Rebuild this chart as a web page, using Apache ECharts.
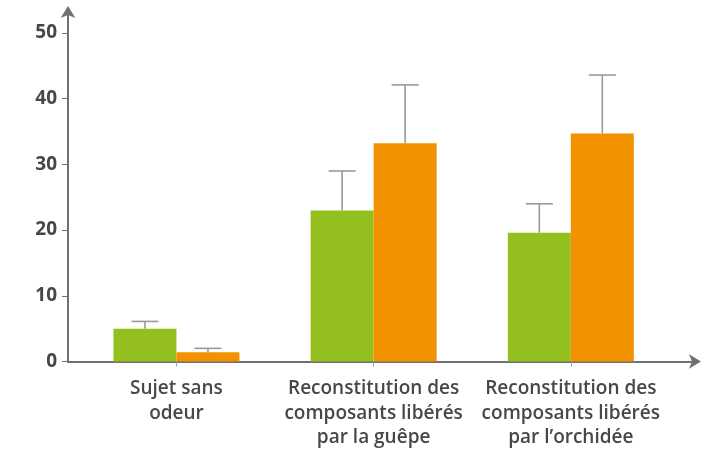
<!DOCTYPE html>
<html>
<head>
<meta charset="utf-8">
<script src="https://cdn.jsdelivr.net/npm/echarts@6/dist/echarts.min.js"></script>
<style>
  html, body { margin: 0; padding: 0; background: #ffffff; }
  #chart { width: 712px; height: 450px; }
</style>
</head>
<body>
<div id="chart"></div>
<script>
// Conditions tested (x axis), one group of two bars each
const categories = [
  'Sujet sans\nodeur',
  'Reconstitution des\ncomposants libérés\npar la guêpe',
  'Reconstitution des\ncomposants libérés\npar l\u2019orchidée'
];
const categoryIndex = [0, 1, 2];

// Green series: mean and upper error
const greenValues = [5, 23, 19.6];
const greenErrors = [1.1, 6, 4.4];

// Orange series: mean and upper error
const orangeValues = [1.4, 33.2, 34.7];
const orangeErrors = [0.6, 8.9, 8.9];

// Y axis tick labels
const yTicks = [0, 10, 20, 30, 40, 50];

const GREEN = '#93c01f';
const ORANGE = '#f39200';
const AXIS = '#707070';
const TEXT = '#474747';
const BAR_W = 63;
const CAP_W = 27;

const chart = echarts.init(document.getElementById('chart'), null, { renderer: 'canvas' });

function errorBarRenderer(side) {
  return function (params, api) {
    const idx = api.value(0);
    const v = api.value(1);
    const e = api.value(2);
    const base = api.coord([idx, v]);
    const top = api.coord([idx, v + e]);
    const x = base[0] + side * BAR_W / 2;
    const style = { stroke: '#9a9a9a', lineWidth: 1.6 };
    return {
      type: 'group',
      children: [
        { type: 'line', shape: { x1: x, y1: base[1], x2: x, y2: top[1] }, style },
        { type: 'line', shape: { x1: x - CAP_W / 2, y1: top[1], x2: x + CAP_W / 2, y2: top[1] }, style }
      ]
    };
  };
}

const zip = (vals, errs) => categoryIndex.map((i) => [i, vals[i], errs[i]]);

chart.setOption({
  animation: false,
  backgroundColor: '#ffffff',
  textStyle: { fontFamily: 'Open Sans' },
  grid: { left: 68, right: 14, top: 9, bottom: 88, containLabel: false },
  xAxis: {
    type: 'value',
    min: -0.55,
    max: 2.645,
    splitLine: { show: false },
    axisLine: {
      show: true,
      onZero: false,
      lineStyle: { color: AXIS, width: 2 },
      symbol: ['none', 'arrow'],
      symbolSize: [11, 12],
      symbolOffset: [0, 3]
    },
    axisTick: {
      show: true,
      customValues: categoryIndex,
      length: 5,
      lineStyle: { color: '#a0a0a0', width: 1 }
    },
    axisLabel: {
      customValues: categoryIndex,
      formatter: (v) => categories[Math.round(v)],
      color: TEXT,
      fontSize: 19,
      fontWeight: 600,
      lineHeight: 24.5,
      margin: 15,
      align: 'center'
    }
  },
  yAxis: {
    type: 'value',
    min: 0,
    max: 53.65,
    splitLine: { show: false },
    axisLine: {
      show: true,
      onZero: false,
      lineStyle: { color: AXIS, width: 2 },
      symbol: ['none', 'arrow'],
      symbolSize: [11, 12],
      symbolOffset: [0, 3]
    },
    axisTick: {
      show: true,
      customValues: yTicks,
      length: 6,
      lineStyle: { color: AXIS, width: 1 }
    },
    axisLabel: {
      customValues: yTicks,
      color: TEXT,
      fontSize: 19,
      fontWeight: 'bold',
      margin: 11
    }
  },
  series: [
    {
      type: 'bar',
      name: 'vert',
      data: categoryIndex.map((i) => [i, greenValues[i]]),
      barWidth: BAR_W,
      barGap: '0%',
      itemStyle: { color: GREEN },
      z: 2
    },
    {
      type: 'bar',
      name: 'orange',
      data: categoryIndex.map((i) => [i, orangeValues[i]]),
      barWidth: BAR_W,
      barGap: '0%',
      itemStyle: { color: ORANGE },
      z: 2
    },
    {
      type: 'custom',
      renderItem: errorBarRenderer(-1),
      data: zip(greenValues, greenErrors),
      encode: { x: 0, y: 1 },
      z: 1
    },
    {
      type: 'custom',
      renderItem: errorBarRenderer(1),
      data: zip(orangeValues, orangeErrors),
      encode: { x: 0, y: 1 },
      z: 1
    }
  ]
});
</script>
</body>
</html>
